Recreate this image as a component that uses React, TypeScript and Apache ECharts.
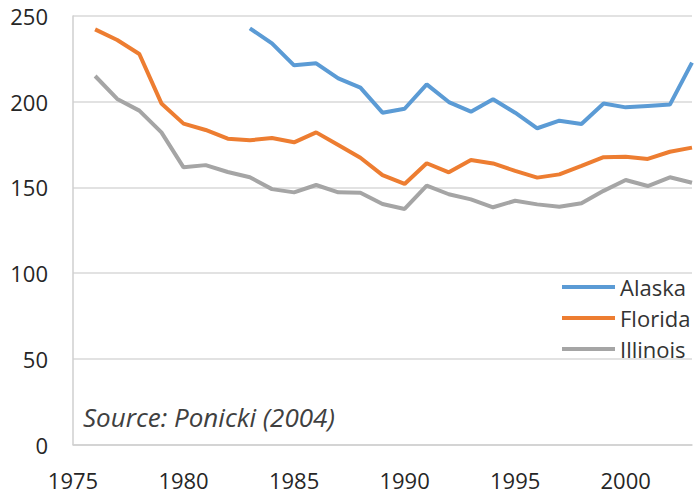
import React, { useEffect, useRef } from "react";
import * as echarts from "echarts";

const years = [1976, 1977, 1978, 1979, 1980, 1981, 1982, 1983, 1984, 1985, 1986, 1987, 1988, 1989, 1990, 1991, 1992, 1993, 1994, 1995, 1996, 1997, 1998, 1999, 2000, 2001, 2002, 2003];
const alaska = [null, null, null, null, null, null, null, 242.8, 234, 221.2, 222.4, 213.6, 208.2, 193.6, 195.9, 210.1, 199.8, 194.2, 201.4, 193.6, 184.5, 188.9, 187, 199, 196.7, 197.5, 198.3, 222.8];
const florida = [242.2, 236, 227.8, 199, 187.2, 183.5, 178.4, 177.5, 178.8, 176.3, 182.1, 174.7, 167.3, 157.2, 152, 164.1, 158.8, 166, 164, 159.6, 155.7, 157.6, 162.5, 167.6, 167.9, 166.6, 170.8, 173.2];
const illinois = [215, 201.6, 194.8, 182.1, 161.7, 163, 159, 155.9, 149, 147.1, 151.4, 147.1, 146.9, 140.3, 137.4, 151, 146, 143, 138.4, 142.2, 140.1, 138.7, 140.7, 148, 154.3, 150.8, 155.9, 152.7];
const seriesNames = ["Alaska", "Florida", "Illinois"];
const colors = ["#5B9BD5", "#ED7D31", "#A5A5A5"];
const sourceNote = "Source: Ponicki (2004)";

const FONT = "'Open Sans', 'Noto Sans', sans-serif";

export default function App() {
  const ref = useRef<HTMLDivElement>(null);
  useEffect(() => {
    if (!ref.current) return;
    const chart = echarts.init(ref.current, undefined, { renderer: "svg" });
    const toPairs = (vals: (number | null)[]) =>
      years.map((y, i) => [y, vals[i]]).filter((p) => p[1] !== null);
    const all = [alaska, florida, illinois];
    chart.setOption({
      animation: false,
      backgroundColor: "#ffffff",
      textStyle: { fontFamily: FONT },
      grid: { left: 73, right: 0, top: 16, bottom: 48.5, containLabel: false },
      legend: {
        orient: "vertical",
        left: 562,
        top: 276,
        padding: 0,
        itemGap: 9,
        itemWidth: 53,
        itemHeight: 4,
        icon: "rect",
        textStyle: { fontSize: 22, lineHeight: 22, color: "#333333", fontFamily: FONT },
        data: seriesNames,
      },
      xAxis: {
        type: "value",
        min: 1975,
        max: 2003,
        interval: 5,
        axisLine: { show: true, lineStyle: { color: "#cfcfcf", width: 1.5 } },
        axisTick: { show: false },
        splitLine: { show: false },
        axisLabel: {
          fontSize: 22,
          lineHeight: 22,
          color: "#262626",
          margin: 24,
          fontFamily: FONT,
          formatter: (v: number) => (v % 5 === 0 ? String(v) : ""),
        },
      },
      yAxis: {
        type: "value",
        min: 0,
        max: 250,
        interval: 50,
        axisLine: { show: true, lineStyle: { color: "#cfcfcf", width: 1.5 } },
        axisTick: { show: false },
        splitLine: { show: true, lineStyle: { color: "#d9d9d9", width: 1.5 } },
        axisLabel: { fontSize: 22, color: "#262626", margin: 25, fontFamily: FONT },
      },
      graphic: [
        {
          type: "text",
          left: 83,
          top: 404,
          style: {
            text: sourceNote,
            fontSize: 26,
            fontStyle: "italic",
            fill: "#404040",
            fontFamily: FONT,
          },
        },
      ],
      series: seriesNames.map((name, i) => ({
        name,
        type: "line",
        data: toPairs(all[i]),
        showSymbol: false,
        symbol: "none",
        lineStyle: { color: colors[i], width: 4 },
        itemStyle: { color: colors[i] },
        clip: true,
      })),
    });
    return () => chart.dispose();
  }, []);
  return (
    <div
      ref={ref}
      style={{ position: "fixed", left: 0, top: 0, width: 695, height: 493 }}
    />
  );
}
